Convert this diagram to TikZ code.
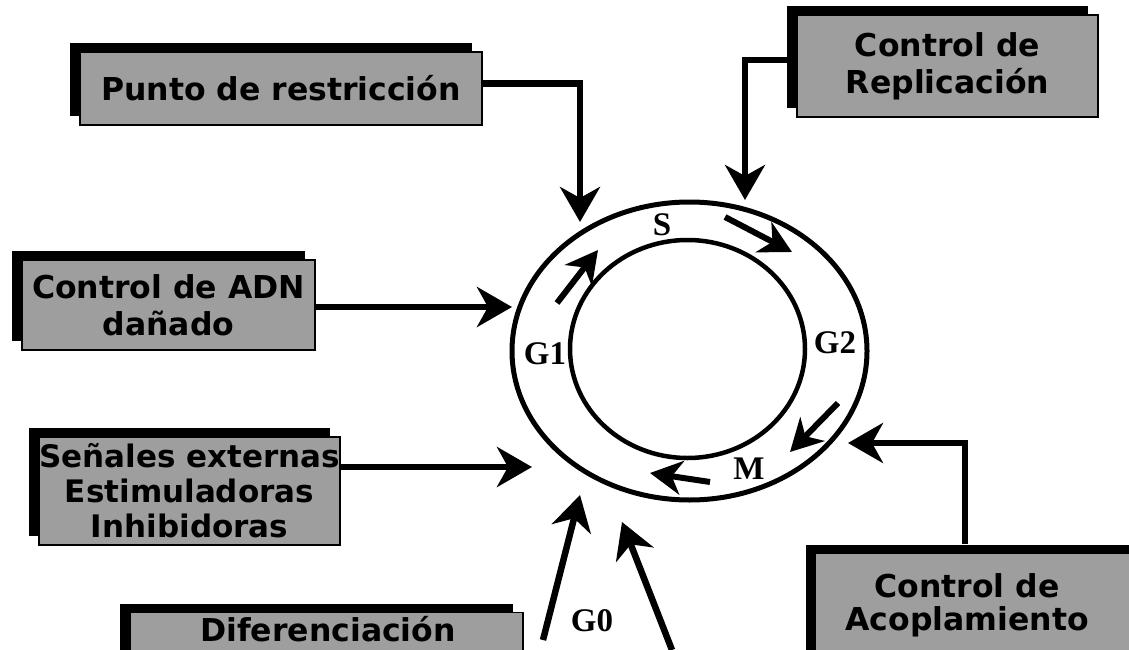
\documentclass[tikz,border=0pt]{standalone}
\usepackage{fontspec}
\setmainfont{Liberation Serif}
\newfontfamily\boxfont{DejaVu Sans}
\usetikzlibrary{arrows.meta,shadows,shapes.geometric}
\begin{document}
\begin{tikzpicture}[x=1pt,y=-1pt,
  boxnode/.style={draw=black, line width=1.2pt, fill=black!38, inner sep=0pt, align=center,
    font=\boxfont\bfseries\fontsize{31.5}{37}\selectfont,
    general shadow={fill=black, shadow xshift=-10pt, shadow yshift=9pt}},
  boxtext/.style={inner sep=0pt, align=center, font=\boxfont\bfseries\fontsize{31.5}{33}\selectfont},
  bigarrow/.style={line width=6.5pt, -{Stealth[length=35pt,width=40pt,inset=11pt]}},
  ringarrow/.style={line width=6pt, -{Stealth[length=32pt,width=34pt,inset=10pt]}},
  ring/.style={draw=black, ellipse, inner sep=0pt},
  phase/.style={font=\bfseries\fontsize{33}{33}\selectfont, inner sep=0pt},
]
\useasboundingbox (0,0) rectangle (1129,650);
\clip (0,0) rectangle (1129,650);
\fill[white] (0,0) rectangle (1129,650);

% boxes
\node[boxnode, minimum width=402, minimum height=73] (punto) at (281,88.5) {Punto de restricción};
\node[boxnode, minimum width=301, minimum height=102] (repl) at (947.5,66) {Control de\\Replicación};
\node[boxnode, minimum width=293, minimum height=90] (adn) at (168.5,305) {Control de ADN\\dañado};
\node[boxnode, minimum width=295, minimum height=108, font=\boxfont\bfseries\fontsize{31}{35}\selectfont] (sen) at (189.5,491) {Señales externas\\Estimuladoras\\Inhibidoras};
\node[boxnode, minimum width=393, minimum height=70, anchor=north] (dif) at (326.5,612) {};
\node[boxtext, anchor=base] (diftext) at (328,641) {Diferenciación};
\node[boxnode, minimum width=330, minimum height=110, anchor=north west] (aco) at (815,553) {};
\node[boxtext, anchor=north] (acotext) at (967,573) {Control de\\Acoplamiento};

% cycle rings
\node[ring, line width=5pt, minimum width=355, minimum height=298] (outer) at (689.5,351) {};
\node[ring, line width=4.5pt, minimum width=235, minimum height=218] (inner) at (687.5,349) {};

% phase labels
\node[phase] (S) at (662,225) {S};
\node[phase] (G1) at (545,354) {G1};
\node[phase] (G2) at (835,343) {G2};
\node[phase] (M) at (749,469) {M};
\node[phase] (G0) at (592,621) {G0};

% arrows from the boxes
\coordinate (pt) at (580,222);
\draw[bigarrow] ([yshift=5pt]punto.east) -| (pt);
\coordinate (rt) at (745,200);
\draw[bigarrow] ([yshift=6pt]repl.west) -| (rt);
\coordinate (at) at (512,307);
\draw[bigarrow] (adn.east |- at) -- (at);
\coordinate (st) at (532,467);
\draw[bigarrow] (sen.east |- st) -- (st);
\coordinate (ct) at (848,443);
\coordinate (cs) at (965,544);
\draw[bigarrow] (cs) |- (ct);

% G0 arrows
\coordinate (g0as) at (543,640);
\coordinate (g0at) at (580,495);
\coordinate (g0bs) at (672,650);
\coordinate (g0bt) at (622,522);
\draw[bigarrow] (g0as) -- (g0at);
\draw[bigarrow] (g0bs) -- (g0bt);

% arrows in the ring
\coordinate (r1s) at (557,303); \coordinate (r1t) at (598,250);
\coordinate (r2s) at (725,217); \coordinate (r2t) at (792,252);
\coordinate (r3s) at (838,403); \coordinate (r3t) at (790,452);
\coordinate (r4s) at (710,482); \coordinate (r4t) at (650,473);
\draw[ringarrow] (r1s) -- (r1t);
\draw[ringarrow] (r2s) -- (r2t);
\draw[ringarrow] (r3s) -- (r3t);
\draw[ringarrow] (r4s) -- (r4t);
\end{tikzpicture}
\end{document}
